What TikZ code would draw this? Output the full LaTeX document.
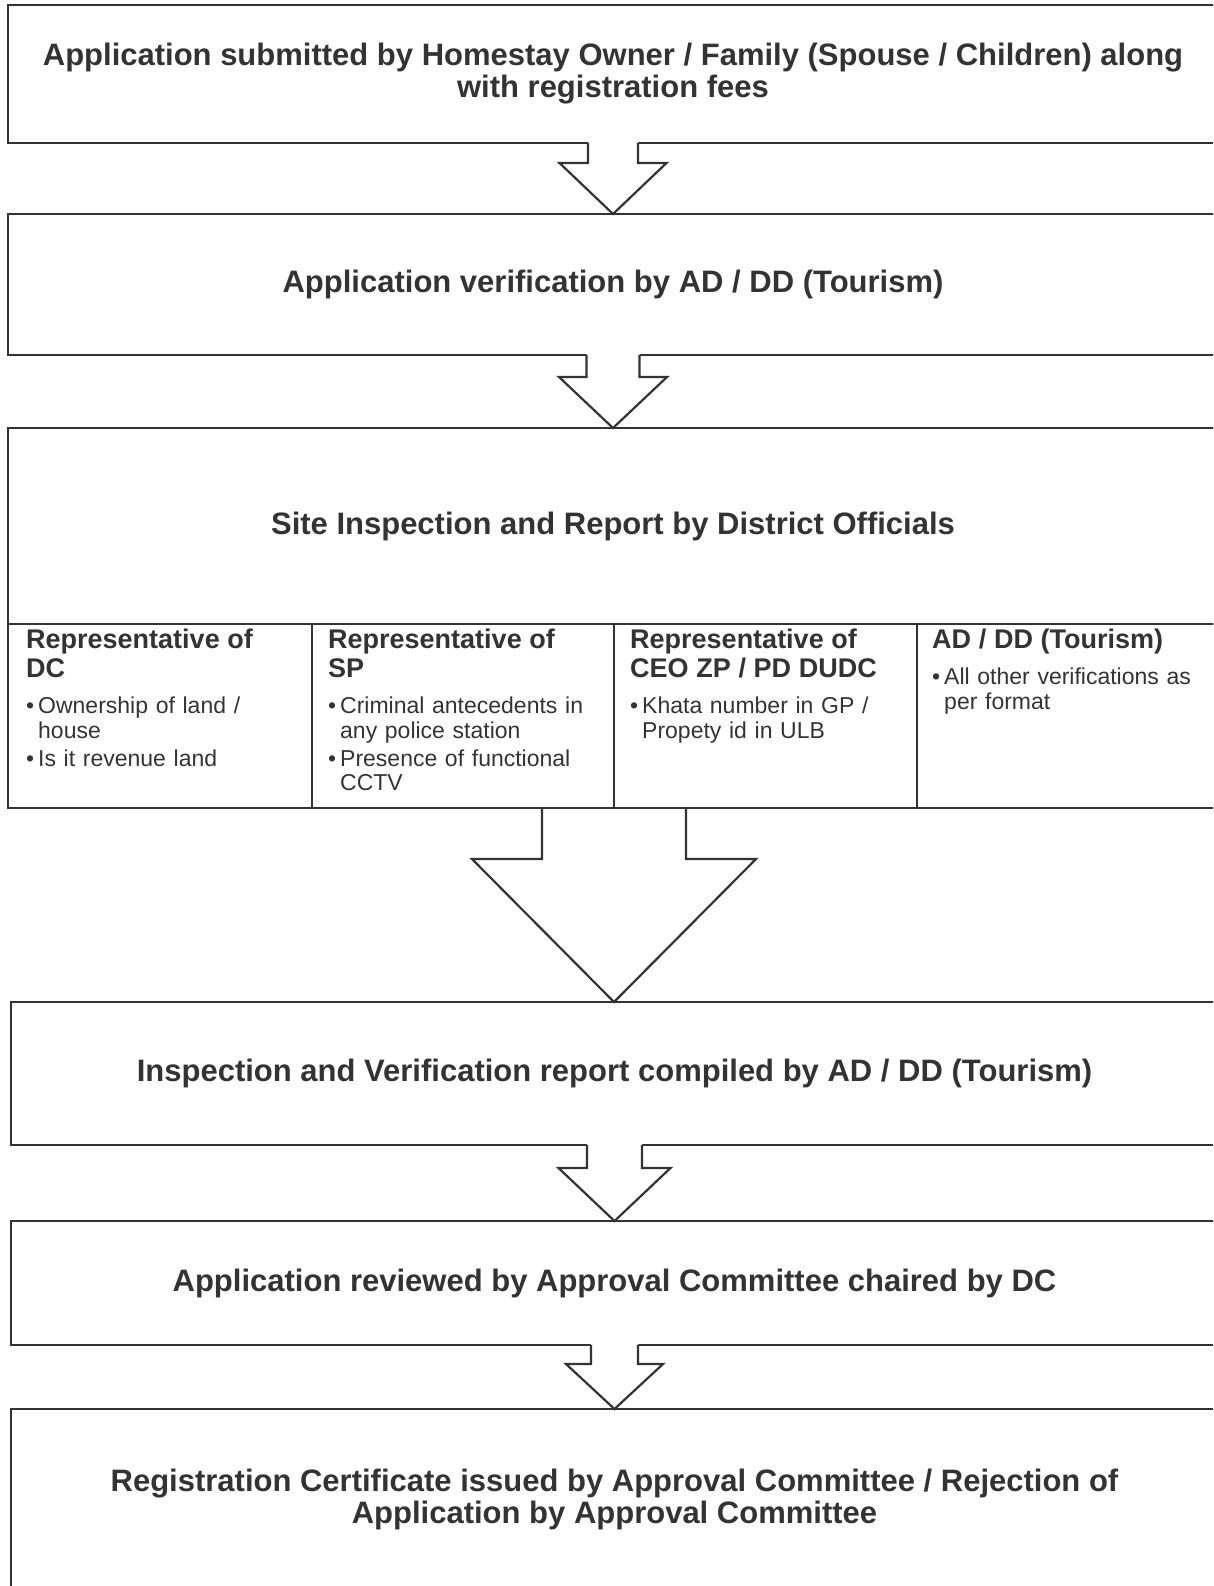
\documentclass[tikz,border=0pt]{standalone}
\usepackage{fontspec}
\setmainfont{Liberation Sans}
\usetikzlibrary{calc}
\definecolor{ink}{HTML}{333333}
\tikzset{
    box/.style={draw=ink, line width=2.2pt, rectangle, inner sep=0pt, outer sep=0pt, text=ink, align=center, font=\fontsize{31}{32}\selectfont\bfseries},
    cell/.style={draw=ink, line width=2.2pt, rectangle, inner sep=0pt, outer sep=0pt, minimum height=184, anchor=north west},
    celltext/.style={text=ink, anchor=north west, inner sep=0pt, text width=285, align=left, font=\fontsize{23}{24.3}\selectfont},
    arrowline/.style={draw=ink, line width=2.2pt, line join=miter}
}
\newcommand{\hdr}[1]{{\noindent\fontsize{27}{29}\selectfont\bfseries #1\par}\vspace{11.7pt}}
\newcommand{\itm}[1]{\par\noindent\hangindent=12pt\hangafter=1\makebox[12pt][l]{\textbullet}#1\par\vspace{4pt}}
% start point, target box, shaft half width, head half width, shaft length, fill
\newcommand{\blockarrow}[6]{%
    \path[fill=#6] ($(#1)+(-#3,2)$) -- ($(#1)+(-#3,-#5)$) -- ($(#1)+(-#4,-#5)$) -- (#1 |- #2.north)
        -- ($(#1)+(#4,-#5)$) -- ($(#1)+(#3,-#5)$) -- ($(#1)+(#3,2)$) -- cycle;
    \draw[arrowline] ($(#1)+(-#3,0)$) -- ($(#1)+(-#3,-#5)$) -- ($(#1)+(-#4,-#5)$) -- (#1 |- #2.north)
        -- ($(#1)+(#4,-#5)$) -- ($(#1)+(#3,-#5)$) -- ($(#1)+(#3,0)$);
}
\begin{document}
\begin{tikzpicture}[x=1pt, y=1pt]
    \useasboundingbox (0,0) rectangle (1213,-1586);
    \clip (0,0) rectangle (1213,-1586);

    \node[box, minimum width=1210, minimum height=138] (b1) at (613,-74)
        {Application submitted by Homestay Owner / Family (Spouse / Children) along\\with registration fees};
    \node[box, minimum width=1210, minimum height=141] (b2) at (613,-284.5)
        {Application verification by AD / DD (Tourism)};
    \node[box, minimum width=1210, minimum height=196] (b3) at (613,-526)
        {Site Inspection and Report by District Officials};

    % checks by each official
    \node[cell, minimum width=304] (c1) at (b3.south west) {};
    \node[cell, minimum width=302] (c2) at (c1.north east) {};
    \node[cell, minimum width=303] (c3) at (c2.north east) {};
    \node[cell, minimum width=301] (c4) at (c3.north east) {};
    \node[celltext] (t1) at ($(c1.north west)+(18,-5)$)
        {\hdr{Representative of\\DC}\itm{Ownership of land /\newline house}\itm{Is it revenue land}};
    \node[celltext] (t2) at ($(c2.north west)+(16,-5)$)
        {\hdr{Representative of\\SP}\itm{Criminal antecedents in\newline any police station}\itm{Presence of functional\newline CCTV}};
    \node[celltext] (t3) at ($(c3.north west)+(16,-5)$)
        {\hdr{Representative of\\CEO ZP / PD DUDC}\itm{Khata number in GP /\newline Propety id in ULB}};
    \node[celltext] (t4) at ($(c4.north west)+(15,-5)$)
        {\hdr{AD / DD (Tourism)}\itm{All other verifications as\newline per format}};

    \node[box, minimum width=1207, minimum height=143] (b4) at (614.5,-1073.5)
        {Inspection and Verification report compiled by AD / DD (Tourism)};
    \node[box, minimum width=1207, minimum height=124] (b5) at (614.5,-1283)
        {Application reviewed by Approval Committee chaired by DC};
    \node[box, minimum width=1207, minimum height=180] (b6) at (614.5,-1499)
        {Registration Certificate issued by Approval Committee / Rejection of\\Application by Approval Committee};

    \coordinate (rowmid) at (c2.south east);
    \blockarrow{b1.south}{b2}{25}{53.5}{20}{white}
    \blockarrow{b2.south}{b3}{26.5}{54}{22}{white}
    \blockarrow{rowmid}{b4}{72}{142}{51}{none}
    \blockarrow{b4.south}{b5}{27.5}{56}{23}{white}
    \blockarrow{b5.south}{b6}{23.5}{48.5}{19}{white}
\end{tikzpicture}
\end{document}
